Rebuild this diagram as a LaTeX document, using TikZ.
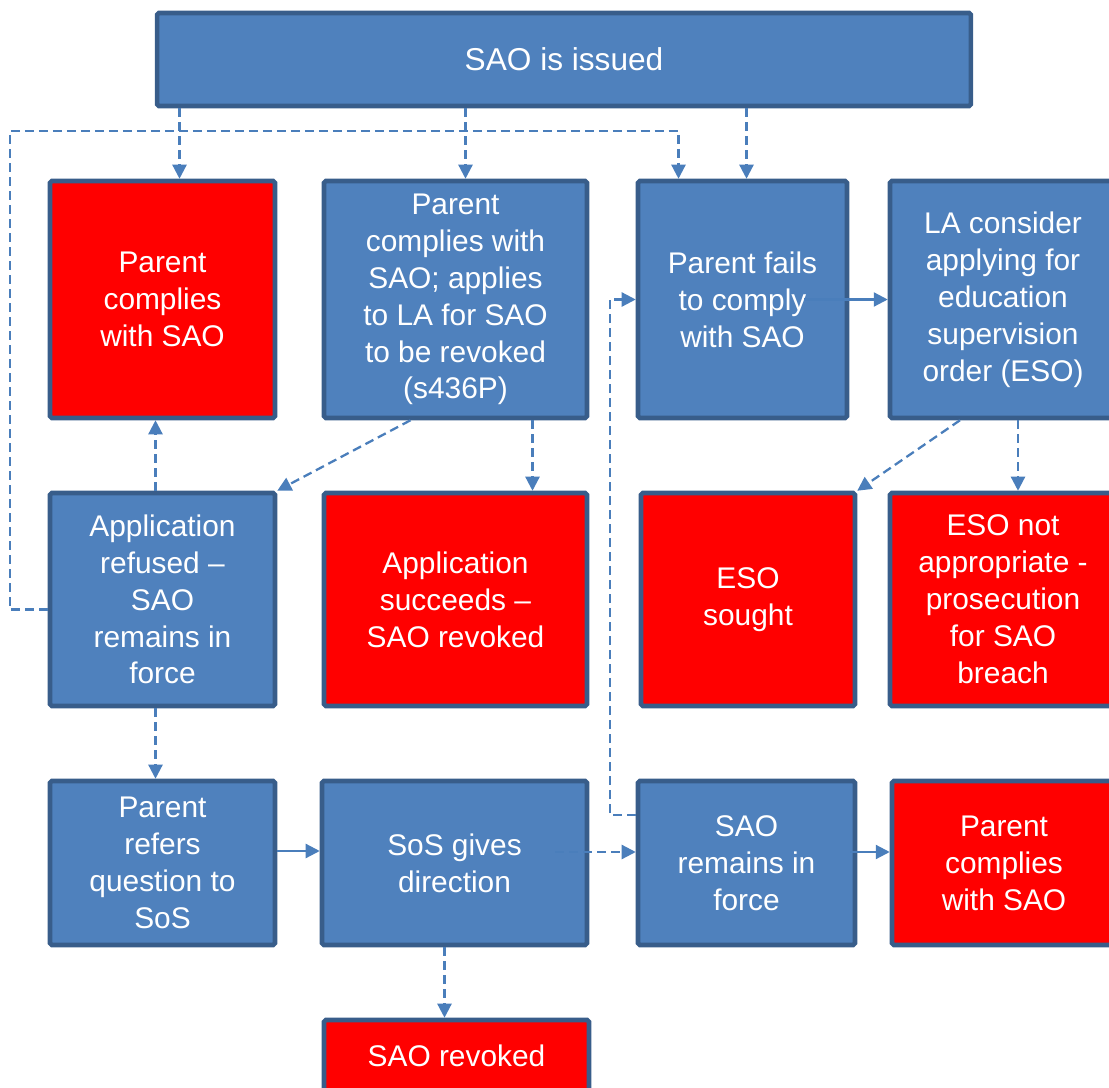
\documentclass[tikz,border=0pt]{standalone}
\usepackage{fontspec}
\setmainfont{Liberation Sans}
\usetikzlibrary{arrows.meta,calc}
\definecolor{boxblue}{HTML}{4F81BD}
\definecolor{boxedge}{HTML}{385D8A}
\definecolor{boxred}{HTML}{FF0000}
\definecolor{linkblue}{HTML}{4A7EBB}
\begin{document}
\begin{tikzpicture}[x=0.02cm,y=-0.02cm,
    box/.style={rectangle,draw=boxedge,line width=2.6pt,rounded corners=1pt,
      text=white,align=center,inner sep=0pt,
      font=\fontsize{17}{21}\selectfont},
    bluebox/.style={box,fill=boxblue},
    redbox/.style={box,fill=boxred},
    link/.style={draw=linkblue,line width=1.3pt,-{Triangle[width=0.28cm,length=0.28cm]}},
    dlink/.style={link,dash pattern=on 0.18cm off 0.1cm}]

        \clip (0,0) rectangle (1109,1088);

        \begin{scope}[every node/.style={bluebox}]
          \node[minimum width=16.28cm,minimum height=1.86cm,font=\fontsize{18}{22}\selectfont] (top) at (564,59.5) {SAO is issued};
          \node[minimum width=5.26cm,minimum height=4.74cm] (B) at (455.5,299.5)
            {Parent\\complies with\\SAO; applies\\to LA for SAO\\to be revoked\\(s436P)};
          \node[minimum width=4.18cm,minimum height=4.74cm] (C) at (742.5,299.5)
            {Parent fails\\to comply\\with SAO};
          \node[minimum width=4.52cm,minimum height=4.74cm] (D) at (1003,299.5)
            {LA consider\\applying for\\education\\supervision\\order (ESO)};
          \node[minimum width=4.5cm,minimum height=4.26cm] (E) at (162.5,599.5)
            {Application\\refused --\\SAO\\remains in\\force};
          \node[minimum width=4.5cm,minimum height=3.28cm] (I) at (162.5,863)
            {Parent\\refers\\question to\\SoS};
          \node[minimum width=5.3cm,minimum height=3.28cm] (J) at (454.5,863)
            {SoS gives\\direction};
          \node[minimum width=4.34cm,minimum height=3.28cm] (K) at (746.5,863)
            {SAO\\remains in\\force};
        \end{scope}

        \begin{scope}[every node/.style={redbox}]
          \node[minimum width=4.5cm,minimum height=4.74cm] (A) at (162.5,299.5)
            {Parent\\complies\\with SAO};
          \node[minimum width=5.26cm,minimum height=4.26cm] (F) at (455.5,599.5)
            {Application\\succeeds --\\SAO revoked};
          \node[minimum width=4.28cm,minimum height=4.26cm] (G) at (748,599.5)
            {ESO\\sought};
          \node[minimum width=4.52cm,minimum height=4.26cm] (H) at (1003,599.5)
            {ESO not\\appropriate -\\prosecution\\for SAO\\breach};
          \node[minimum width=4.48cm,minimum height=3.28cm] (L) at (1004,863)
            {Parent\\complies\\with SAO};
          \node[minimum width=5.3cm,minimum height=1.44cm] (M) at (456.5,1056)
            {SAO revoked};
        \end{scope}

        \begin{scope}[every edge/.style={dlink}]
          \path ($(top.south -| A.north)+(17,0)$) edge ($(A.north)+(17,0)$);
          \path ($(top.south -| B.north)+(10,0)$) edge ($(B.north)+(10,0)$);
          \path ($(top.south -| C.north)+(4,0)$)  edge ($(C.north)+(4,0)$);
          \path ($(E.north)+(-7,0)$)  edge ($(A.south)+(-7,0)$);
          \path ($(B.south)+(-45,0)$) edge (E.north east);
          \path ($(B.south)+(77,0)$)  edge ($(F.north)+(77,0)$);
          \path ($(D.south)+(-43,0)$) edge (G.north east);
          \path ($(D.south)+(15,0)$)  edge ($(H.north)+(15,0)$);
          \path ($(E.south)+(-7,0)$)  edge ($(I.north)+(-7,0)$);
          \path ($(J.east)+(-34,-11)$) edge ($(K.west)+(0,-11)$);
          \path ($(J.south)+(-10,0)$) edge ($(M.north)+(-12,0)$);
        \end{scope}

        \begin{scope}[every edge/.style={link}]
          \path ($(C.east)+(-45,0)$) edge (D.west);
          \path ($(I.east)+(0,-12)$) edge ($(J.west)+(0,-12)$);
          \path ($(K.east)+(-7,-11)$) edge ($(L.west)+(0,-11)$);
        \end{scope}

        \draw[dlink] ($(E.west)+(0,10)$) -- ++(-38,0) |- ($(C.north)+(-64,-48)$) -- ($(C.north)+(-64,0)$);
        \draw[dlink] ($(K.west)+(0,-48)$) -- ++(-26,0) |- (C.west);

      \end{tikzpicture}
\end{document}
